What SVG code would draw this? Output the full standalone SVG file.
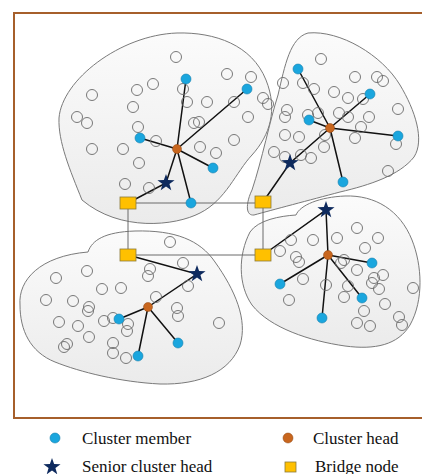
<svg xmlns="http://www.w3.org/2000/svg" xmlns:xlink="http://www.w3.org/1999/xlink" width="422" height="474" viewBox="0 0 422 474">
  <defs>
    <linearGradient id="blobFill" x1="0" y1="0" x2="0" y2="1">
      <stop offset="0" stop-color="#fbfbfb"/>
      <stop offset="1" stop-color="#ebebeb"/>
    </linearGradient>
    <path id="star" d="M0,-9 L2.12,-2.91 L8.56,-2.78 L3.42,1.11 L5.29,7.28 L0,3.6 L-5.29,7.28 L-3.42,1.11 L-8.56,-2.78 L-2.12,-2.91 Z"/>
    <style>
      .frame { fill: #ffffff; stroke: #a65f2b; stroke-width: 2; }
      .blob { fill: url(#blobFill); stroke: #7a7a7a; stroke-width: 1; }
      .node { fill: none; stroke: #6a6a6a; stroke-width: 0.9; }
      .member { fill: #1aa6de; stroke: #1580ad; stroke-width: 0.6; }
      .head { fill: #c8661e; stroke: #8f4510; stroke-width: 0.5; }
      .senior { fill: #0e2a5e; }
      .bridge { fill: #ffc000; stroke: #8c7a3a; stroke-width: 0.8; }
      .link { stroke: #111111; stroke-width: 1.5; fill: none; }
      .bridgeLink { stroke: #6a6a6a; stroke-width: 1; fill: none; }
      .label { font-family: "Liberation Serif", "Times New Roman", serif; font-size: 17px; fill: #111111; }
    </style>
  </defs>

  <!-- outer frame -->
  <rect class="frame" x="14" y="13" width="420" height="405"/>

  <!-- cluster regions -->
  <g id="regions">
    <path id="region-1" class="blob" d="M82,200 C70,170 58,142 59,118 C62,80 120,35 177,33 C215,32 252,45 266,80 C278,110 270,135 252,155 C236,172 226,200 200,213 C175,226 120,232 82,200 Z"/>
    <path id="region-2" class="blob" d="M308,33 C340,30 382,55 400,85 C415,110 425,140 414,157 C400,175 370,185 340,192 C310,200 272,210 254,215 C244,216 247,200 252,190 C262,160 270,120 278,95 C285,65 290,38 308,33 Z"/>
    <path id="region-3" class="blob" d="M20,305 C18,280 40,256 88,252 C92,240 105,232 135,231 C175,230 200,240 215,262 C235,290 248,320 240,345 C230,372 200,385 160,384 C120,382 80,372 55,362 C30,352 20,330 20,305 Z"/>
    <path id="region-4" class="blob" d="M296,215 C300,205 320,197 345,196 C375,195 400,210 412,240 C422,265 424,300 410,325 C398,345 375,350 345,346 C310,341 270,328 252,305 C238,285 238,255 250,232 C258,220 280,216 296,215 Z"/>
  </g>

  <!-- connectors -->
  <g id="connectors">
    <path class="bridgeLink" d="M128,203 H263 V255 H128 Z"/>
    <!-- cluster 1 -->
    <path class="link" d="M177,149 L186,79 M177,149 L247,89 M177,149 L140,138 M177,149 L213,168 M177,149 L191,203 M177,149 L166,183 L128,203"/>
    <!-- cluster 2 -->
    <path class="link" d="M330,128 L298,69 M330,128 L370,94 M330,128 L309,120 M330,128 L398,136 M330,128 L343,182 M330,128 L290,163 L263,202"/>
    <!-- cluster 3 -->
    <path class="link" d="M148,307 L119,319 M148,307 L178,343 M148,307 L138,356 M148,307 L197,274 L128,255"/>
    <!-- cluster 4 -->
    <path class="link" d="M328,255 L280,284 M328,255 L372,263 M328,255 L362,298 M328,255 L322,318 M328,255 L326,210 L263,255"/>
  </g>

  <!-- cluster 1 -->
  <g id="cluster-1">
    <g id="c1-plain">
      <circle class="node" cx="176" cy="57" r="5.5"/>
      <circle class="node" cx="153" cy="84" r="5.5"/>
      <circle class="node" cx="137" cy="90" r="5.5"/>
      <circle class="node" cx="92" cy="95" r="5.5"/>
      <circle class="node" cx="183" cy="89" r="5.5"/>
      <circle class="node" cx="187" cy="102" r="5.5"/>
      <circle class="node" cx="133" cy="107" r="5.5"/>
      <circle class="node" cx="207" cy="102" r="5.5"/>
      <circle class="node" cx="77" cy="117" r="5.5"/>
      <circle class="node" cx="87" cy="123" r="5.5"/>
      <circle class="node" cx="138" cy="127" r="5.5"/>
      <circle class="node" cx="194" cy="123" r="5.5"/>
      <circle class="node" cx="199" cy="122" r="5.5"/>
      <circle class="node" cx="156" cy="141" r="5.5"/>
      <circle class="node" cx="200" cy="147" r="5.5"/>
      <circle class="node" cx="92" cy="149" r="5.5"/>
      <circle class="node" cx="123" cy="149" r="5.5"/>
      <circle class="node" cx="139" cy="163" r="5.5"/>
      <circle class="node" cx="125" cy="184" r="5.5"/>
      <circle class="node" cx="149" cy="188" r="5.5"/>
      <circle class="node" cx="227" cy="74" r="5.5"/>
      <circle class="node" cx="251" cy="77" r="5.5"/>
      <circle class="node" cx="263" cy="98" r="5.5"/>
      <circle class="node" cx="268" cy="104" r="5.5"/>
      <circle class="node" cx="234" cy="102" r="5.5"/>
      <circle class="node" cx="248" cy="117" r="5.5"/>
      <circle class="node" cx="234" cy="140" r="5.5"/>
      <circle class="node" cx="216" cy="153" r="5.5"/>
    </g>
    <circle id="c1-m1" class="member" cx="186" cy="79" r="5"/>
    <circle id="c1-m2" class="member" cx="247" cy="89" r="5"/>
    <circle id="c1-m3" class="member" cx="140" cy="138" r="5"/>
    <circle id="c1-m4" class="member" cx="213" cy="168" r="5"/>
    <circle id="c1-m5" class="member" cx="191" cy="203" r="5"/>
    <circle id="c1-head" class="head" cx="177" cy="149" r="4.5"/>
    <use id="c1-senior" class="senior" xlink:href="#star" x="166" y="183"/>
  </g>

  <!-- cluster 2 -->
  <g id="cluster-2">
    <g id="c2-plain">
      <circle class="node" cx="321" cy="59" r="5.5"/>
      <circle class="node" cx="283" cy="83" r="5.5"/>
      <circle class="node" cx="303" cy="83" r="5.5"/>
      <circle class="node" cx="314" cy="89" r="5.5"/>
      <circle class="node" cx="355" cy="77" r="5.5"/>
      <circle class="node" cx="377" cy="77" r="5.5"/>
      <circle class="node" cx="383" cy="81" r="5.5"/>
      <circle class="node" cx="334" cy="92" r="5.5"/>
      <circle class="node" cx="348" cy="98" r="5.5"/>
      <circle class="node" cx="363" cy="99" r="5.5"/>
      <circle class="node" cx="398" cy="109" r="5.5"/>
      <circle class="node" cx="287" cy="110" r="5.5"/>
      <circle class="node" cx="285" cy="117" r="5.5"/>
      <circle class="node" cx="308" cy="115" r="5.5"/>
      <circle class="node" cx="318" cy="113" r="5.5"/>
      <circle class="node" cx="339" cy="113" r="5.5"/>
      <circle class="node" cx="348" cy="117" r="5.5"/>
      <circle class="node" cx="369" cy="117" r="5.5"/>
      <circle class="node" cx="361" cy="127" r="5.5"/>
      <circle class="node" cx="325" cy="135" r="5.5"/>
      <circle class="node" cx="285" cy="135" r="5.5"/>
      <circle class="node" cx="299" cy="137" r="5.5"/>
      <circle class="node" cx="396" cy="144" r="5.5"/>
      <circle class="node" cx="355" cy="138" r="5.5"/>
      <circle class="node" cx="324" cy="147" r="5.5"/>
      <circle class="node" cx="274" cy="152" r="5.5"/>
      <circle class="node" cx="285" cy="157" r="5.5"/>
      <circle class="node" cx="301" cy="155" r="5.5"/>
      <circle class="node" cx="311" cy="158" r="5.5"/>
      <circle class="node" cx="388" cy="171" r="5.5"/>
    </g>
    <circle id="c2-m1" class="member" cx="298" cy="69" r="5"/>
    <circle id="c2-m2" class="member" cx="370" cy="94" r="5"/>
    <circle id="c2-m3" class="member" cx="309" cy="120" r="5"/>
    <circle id="c2-m4" class="member" cx="398" cy="136" r="5"/>
    <circle id="c2-m5" class="member" cx="343" cy="182" r="5"/>
    <circle id="c2-head" class="head" cx="330" cy="128" r="4.5"/>
    <use id="c2-senior" class="senior" xlink:href="#star" x="290" y="163"/>
  </g>

  <!-- cluster 3 -->
  <g id="cluster-3">
    <g id="c3-plain">
      <circle class="node" cx="170" cy="242" r="5.5"/>
      <circle class="node" cx="183" cy="263" r="5.5"/>
      <circle class="node" cx="150" cy="269" r="5.5"/>
      <circle class="node" cx="148" cy="276" r="5.5"/>
      <circle class="node" cx="188" cy="286" r="5.5"/>
      <circle class="node" cx="56" cy="278" r="5.5"/>
      <circle class="node" cx="87" cy="271" r="5.5"/>
      <circle class="node" cx="102" cy="289" r="5.5"/>
      <circle class="node" cx="121" cy="288" r="5.5"/>
      <circle class="node" cx="46" cy="300" r="5.5"/>
      <circle class="node" cx="73" cy="301" r="5.5"/>
      <circle class="node" cx="89" cy="307" r="5.5"/>
      <circle class="node" cx="88" cy="311" r="5.5"/>
      <circle class="node" cx="156" cy="297" r="5.5"/>
      <circle class="node" cx="177" cy="308" r="5.5"/>
      <circle class="node" cx="178" cy="316" r="5.5"/>
      <circle class="node" cx="104" cy="321" r="5.5"/>
      <circle class="node" cx="113" cy="318" r="5.5"/>
      <circle class="node" cx="128" cy="324" r="5.5"/>
      <circle class="node" cx="127" cy="331" r="5.5"/>
      <circle class="node" cx="59" cy="322" r="5.5"/>
      <circle class="node" cx="78" cy="326" r="5.5"/>
      <circle class="node" cx="89" cy="337" r="5.5"/>
      <circle class="node" cx="113" cy="343" r="5.5"/>
      <circle class="node" cx="67" cy="344" r="5.5"/>
      <circle class="node" cx="64" cy="347" r="5.5"/>
      <circle class="node" cx="113" cy="353" r="5.5"/>
      <circle class="node" cx="126" cy="358" r="5.5"/>
      <circle class="node" cx="219" cy="323" r="5.5"/>
    </g>
    <circle id="c3-m1" class="member" cx="119" cy="319" r="5"/>
    <circle id="c3-m2" class="member" cx="178" cy="343" r="5"/>
    <circle id="c3-m3" class="member" cx="138" cy="356" r="5"/>
    <circle id="c3-head" class="head" cx="148" cy="307" r="4.5"/>
    <use id="c3-senior" class="senior" xlink:href="#star" x="197" y="274"/>
  </g>

  <!-- cluster 4 -->
  <g id="cluster-4">
    <g id="c4-plain">
      <circle class="node" cx="357" cy="228" r="5.5"/>
      <circle class="node" cx="378" cy="238" r="5.5"/>
      <circle class="node" cx="337" cy="238" r="5.5"/>
      <circle class="node" cx="313" cy="240" r="5.5"/>
      <circle class="node" cx="291" cy="240" r="5.5"/>
      <circle class="node" cx="280" cy="251" r="5.5"/>
      <circle class="node" cx="365" cy="248" r="5.5"/>
      <circle class="node" cx="296" cy="257" r="5.5"/>
      <circle class="node" cx="299" cy="262" r="5.5"/>
      <circle class="node" cx="344" cy="260" r="5.5"/>
      <circle class="node" cx="341" cy="263" r="5.5"/>
      <circle class="node" cx="357" cy="270" r="5.5"/>
      <circle class="node" cx="383" cy="275" r="5.5"/>
      <circle class="node" cx="374" cy="278" r="5.5"/>
      <circle class="node" cx="372" cy="283" r="5.5"/>
      <circle class="node" cx="379" cy="289" r="5.5"/>
      <circle class="node" cx="303" cy="279" r="5.5"/>
      <circle class="node" cx="326" cy="285" r="5.5"/>
      <circle class="node" cx="348" cy="286" r="5.5"/>
      <circle class="node" cx="413" cy="288" r="5.5"/>
      <circle class="node" cx="344" cy="297" r="5.5"/>
      <circle class="node" cx="385" cy="304" r="5.5"/>
      <circle class="node" cx="289" cy="300" r="5.5"/>
      <circle class="node" cx="364" cy="311" r="5.5"/>
      <circle class="node" cx="357" cy="323" r="5.5"/>
      <circle class="node" cx="370" cy="326" r="5.5"/>
      <circle class="node" cx="399" cy="317" r="5.5"/>
      <circle class="node" cx="402" cy="325" r="5.5"/>
    </g>
    <circle id="c4-m1" class="member" cx="280" cy="284" r="5"/>
    <circle id="c4-m2" class="member" cx="372" cy="263" r="5"/>
    <circle id="c4-m3" class="member" cx="362" cy="298" r="5"/>
    <circle id="c4-m4" class="member" cx="322" cy="318" r="5"/>
    <circle id="c4-head" class="head" cx="328" cy="255" r="4.5"/>
    <use id="c4-senior" class="senior" xlink:href="#star" x="326" y="210"/>
  </g>

  <!-- bridge nodes -->
  <g id="bridge-1"><rect class="bridge" x="120" y="197" width="16" height="12"/></g>
  <g id="bridge-2"><rect class="bridge" x="255" y="196" width="16" height="12"/></g>
  <g id="bridge-3"><rect class="bridge" x="120" y="249" width="16" height="12"/></g>
  <g id="bridge-4"><rect class="bridge" x="255" y="249" width="16" height="12"/></g>

  <!-- legend -->
  <g id="legend">
    <circle class="member" cx="55" cy="438" r="5"/>
    <text class="label" x="82" y="444">Cluster member</text>
    <circle class="head" cx="288" cy="438" r="5"/>
    <text class="label" x="313" y="444">Cluster head</text>
    <use class="senior" xlink:href="#star" x="52" y="467"/>
    <text class="label" x="82" y="472">Senior cluster head</text>
    <rect class="bridge" x="285" y="462" width="11" height="10"/>
    <text class="label" x="315" y="472">Bridge node</text>
  </g>
</svg>
